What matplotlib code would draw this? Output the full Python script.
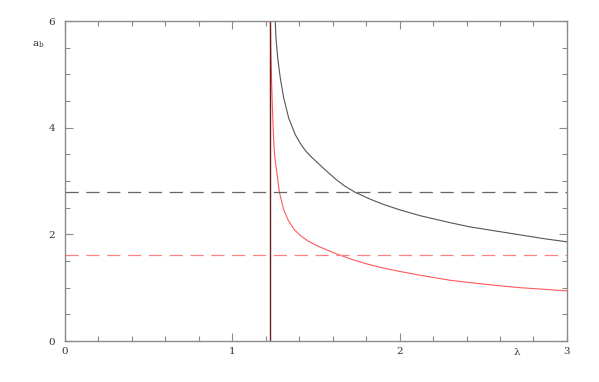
import matplotlib
matplotlib.use("Agg")
import matplotlib.pyplot as plt

# Values
lam_black = [1.2568, 1.261, 1.2711, 1.2867, 1.307, 1.3369, 1.3763, 1.400, 1.4205,
             1.445, 1.4761, 1.500, 1.5239, 1.5759, 1.6237, 1.670, 1.733, 1.820,
             1.900, 2.000, 2.122, 2.300, 2.420, 2.600, 2.720, 2.860, 3.000]
ab_black = [6.00, 5.68, 5.31, 4.93, 4.56, 4.18, 3.87, 3.74, 3.64,
            3.54, 3.44, 3.37, 3.30, 3.15, 3.02, 2.91, 2.79, 2.665,
            2.565, 2.46, 2.35, 2.22, 2.14, 2.05, 1.99, 1.92, 1.86]

lam_red = [1.2275, 1.230, 1.2353, 1.241, 1.2472, 1.2532, 1.267, 1.2807, 1.307,
           1.335, 1.370, 1.410, 1.450, 1.504, 1.556, 1.630, 1.720, 1.810,
           1.900, 2.000, 2.120, 2.300, 2.420, 2.600, 2.720, 2.860, 3.000]
ab_red = [6.00, 5.45, 4.81, 4.25, 3.77, 3.46, 3.14, 2.80, 2.46,
          2.26, 2.09, 1.97, 1.88, 1.79, 1.72, 1.625, 1.525, 1.44,
          1.37, 1.305, 1.235, 1.14, 1.095, 1.035, 1.00, 0.97, 0.94]

lam_vertical = 1.2247
ab_black_limit = 2.79
ab_red_limit = 1.61

x_ticks = [0, 1, 2, 3]
x_tick_labels = ["0", "1", "2", "3"]
y_ticks = [0, 2, 4, 6]
y_tick_labels = ["0", "2", "4", "6"]

plt.rcParams["font.family"] = "DejaVu Serif"
plt.rcParams["lines.scale_dashes"] = False

fig = plt.figure(figsize=(5.99, 3.82), dpi=100)
ax = fig.add_axes([0.1085, 0.1073, 0.838, 0.8377])

axis_grey = "#8a8a8a"

# curves
ax.plot(lam_black, ab_black, color="#555555", lw=0.8)
ax.plot(lam_red, ab_red, color="#ff5a5a", lw=0.8)

# asymptotes
ax.axhline(ab_black_limit, color="#666666", lw=0.9, dashes=(9.5, 5.5))
ax.axhline(ab_red_limit, color="#ff8080", lw=0.9, dashes=(9.5, 5.5))
ax.axvline(lam_vertical, color="#6a1f1f", lw=1.0)

ax.set_xlim(0, 3)
ax.set_ylim(0, 6)

ax.set_xticks(x_ticks)
ax.set_xticklabels(x_tick_labels)
ax.set_yticks(y_ticks)
ax.set_yticklabels(y_tick_labels)
ax.set_xticks([i * 0.2 for i in range(16)], minor=True)
ax.set_yticks([i * 0.5 for i in range(13)], minor=True)

ax.tick_params(which="both", direction="in", top=True, right=True,
               color=axis_grey, labelsize=7.5, labelcolor="#333333")
ax.tick_params(which="major", length=6, width=0.8)
ax.tick_params(which="minor", length=3.5, width=0.8)
ax.tick_params(axis="x", pad=4)
ax.tick_params(axis="y", pad=7)

for s in ax.spines.values():
    s.set_color(axis_grey)
    s.set_linewidth(1.0)

# axis labels as in the original layout
ax.text(2.7, -0.14, "λ", ha="center", va="top", fontsize=7.5, color="#333333")
ax.text(-0.16, 5.55, r"a$_\mathregular{b}$", ha="center", va="center",
        fontsize=7.5, color="#333333")

fig.savefig("out.png", dpi=100)
